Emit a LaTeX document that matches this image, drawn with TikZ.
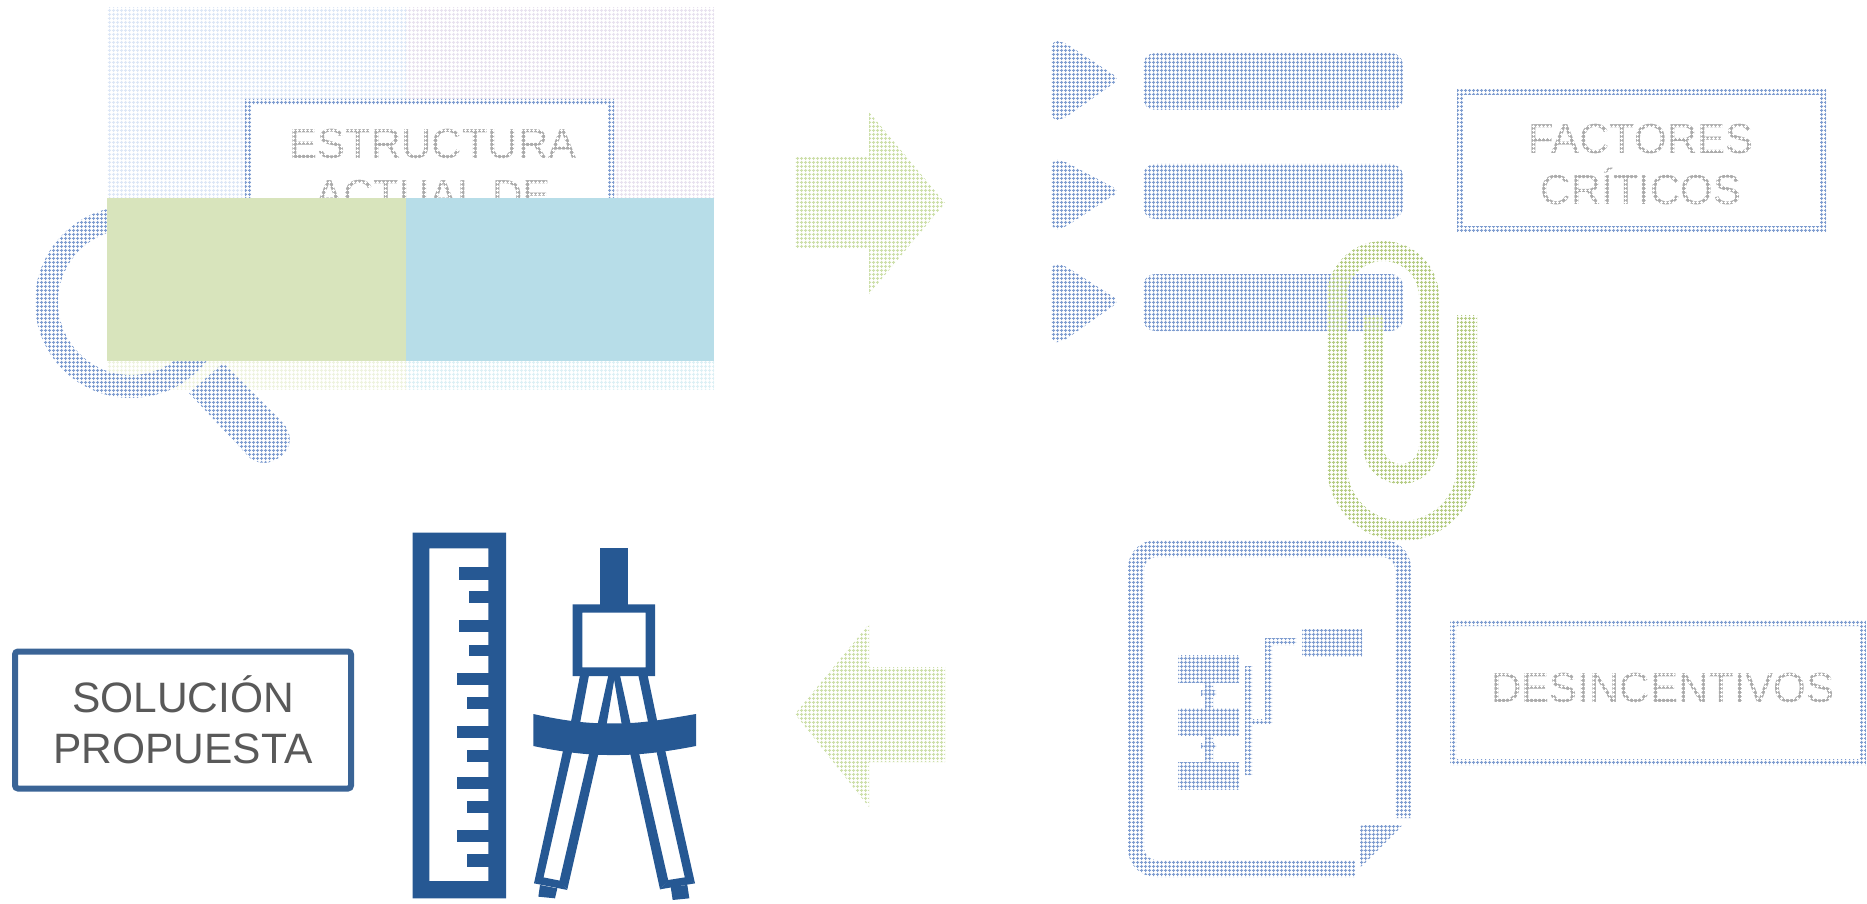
\documentclass[tikz,border=0pt]{standalone}
\usepackage{fontspec}
\setmainfont{Liberation Sans}
\usetikzlibrary{patterns}
\pgfdeclarepatternformonly{rgrid}{\pgfqpoint{0pt}{0pt}}{\pgfqpoint{4pt}{4pt}}{\pgfqpoint{4pt}{4pt}}{%
  \pgfsetlinewidth{1.2pt}%
  \pgfpathmoveto{\pgfqpoint{0pt}{2pt}}\pgfpathlineto{\pgfqpoint{4pt}{2pt}}%
  \pgfpathmoveto{\pgfqpoint{2pt}{0pt}}\pgfpathlineto{\pgfqpoint{2pt}{4pt}}%
  \pgfusepath{stroke}}
\definecolor{navy}{HTML}{265893}
\definecolor{boxblue}{HTML}{3A6496}
\definecolor{txtgray}{HTML}{595959}
\definecolor{solidgreen}{HTML}{D8E4BC}
\definecolor{solidblue}{HTML}{B7DDE8}
\definecolor{dotblue}{HTML}{7F9DD0}
\definecolor{dotgreen}{HTML}{B5CC84}
\definecolor{dotarrow}{HTML}{CDDFAA}
\definecolor{labelgray}{HTML}{ABABAB}
\definecolor{patcha}{HTML}{DDE7F6}
\definecolor{patchb}{HTML}{E8E2EF}
\definecolor{patchc}{HTML}{EEF3DF}
\definecolor{patchd}{HTML}{DDF0F5}
\tikzset{
  blueshape/.style={pattern=rgrid,pattern color=dotblue},
  greenshape/.style={pattern=rgrid,pattern color=dotgreen},
  arrowshape/.style={pattern=rgrid,pattern color=dotarrow},
  ringshape/.style={blueshape,even odd rule},
  fadelabel/.style={text=labelgray,align=center,inner sep=0pt,font=\fontsize{42pt}{51pt}\selectfont},
  whitegrid/.style={pattern=rgrid,pattern color=white},
  navyfill/.style={fill=navy},
}
\begin{document}
\begin{tikzpicture}[x=1pt,y=-1pt]
\useasboundingbox (0,0) rectangle (1867,904);
% --- top-left patch
\fill[pattern=rgrid,pattern color=patcha] (107,8) rectangle (406,198);
\fill[pattern=rgrid,pattern color=patchb] (406,8) rectangle (714,198);
\fill[pattern=rgrid,pattern color=patchc] (107,361) rectangle (406,389);
\fill[pattern=rgrid,pattern color=patchd] (406,361) rectangle (714,389);
% --- structure box
\fill[white] (245,100) rectangle (614,230);
\fill[ringshape] (245,99) rectangle (614,230) (251,105) rectangle (608,230);
\node[fadelabel] (estructura) at (433,170) {ESTRUCTURA\\ACTUAL DE};
\fill[whitegrid] (251,105) rectangle (608,230);
% --- magnifier
\fill[ringshape] (131,302) circle[radius=96pt] (131,302) circle[radius=73pt];
\fill[blueshape] (223,363) -- (189,393) -- (250,458) .. controls (262,468) and (282,462) .. (289,445) .. controls (292,432) and (285,425) .. (280,420) -- cycle;
% --- solid rectangles
\fill[solidgreen] (107,198) rectangle (406,361);
\fill[solidblue] (406,198) rectangle (714,361);
% --- block arrows
\fill[arrowshape] (795,157) -- (869,157) -- (869,112) -- (945,203) -- (869,294) -- (869,248) -- (795,248) -- cycle;
\fill[arrowshape] (945,667) -- (869,667) -- (869,624) -- (795,714) -- (869,807) -- (869,762) -- (945,762) -- cycle;
% --- bullets
\foreach \t/\m/\b in {41/79/120,160/191/229,264/301/342}{
  \fill[blueshape,rounded corners=7pt] (1051,\t) -- (1062,\t) -- (1120,\m) -- (1062,\b) -- (1051,\b) -- cycle;
}
\fill[blueshape,rounded corners=12pt] (1143,53) rectangle (1403,110);
\fill[blueshape,rounded corners=12pt] (1143,164) rectangle (1403,219);
\fill[blueshape,rounded corners=12pt] (1143,274) rectangle (1403,331);
% --- paper clip
\fill[greenshape] (1477,315) -- (1477,466) arc[start angle=0,end angle=-180,radius=75pt]
  -- (1327,297) arc[start angle=180,end angle=0,radius=56pt]
  -- (1439,446) arc[start angle=0,end angle=-180,radius=38pt]
  -- (1363,315) -- (1383,315) -- (1383,446) arc[start angle=180,end angle=360,radius=18pt]
  -- (1419,297) arc[start angle=0,end angle=180,radius=36pt]
  -- (1347,466) arc[start angle=180,end angle=360,radius=55pt]
  -- (1457,315) -- cycle;
% --- factores box
\fill[ringshape] (1457,89) rectangle (1826,232) (1463,95) rectangle (1820,226);
\node[fadelabel] (factores) at (1641,165) {FACTORES\\CRÍTICOS};
\fill[whitegrid] (1480,110) rectangle (1800,220);
% --- document icon
\fill[blueshape] (1411,818) -- (1411,568) arc[start angle=0,end angle=90,radius=28pt]
  -- (1156,540) arc[start angle=90,end angle=180,radius=28pt]
  -- (1128,849) arc[start angle=180,end angle=270,radius=28pt]
  -- (1355,877) -- (1355,860) -- (1156,860) arc[start angle=270,end angle=180,radius=12pt]
  -- (1144,569) arc[start angle=180,end angle=90,radius=12pt]
  -- (1383,557) arc[start angle=90,end angle=0,radius=12pt]
  -- (1395,818) -- cycle;
\fill[blueshape,rounded corners=3pt] (1360,825) -- (1403,825) -- (1360,868) -- cycle;
\fill[blueshape] (1178,655) rectangle (1239,682);
\fill[blueshape] (1178,708) rectangle (1239,735);
\fill[blueshape] (1178,762) rectangle (1239,789);
\fill[blueshape] (1302,629) rectangle (1362,656);
\fill[blueshape] (1205,682) rectangle (1213,708);
\fill[blueshape] (1201,690) rectangle (1216,695);
\fill[blueshape] (1205,735) rectangle (1213,762);
\fill[blueshape] (1201,743) rectangle (1216,748);
\fill[blueshape] (1245,666) -- (1252,666) -- (1252,719) -- (1265,719) -- (1265,638) -- (1296,638) -- (1296,645) -- (1272,645) -- (1272,724) -- (1252,724) -- (1252,775) -- (1245,775) -- cycle;
% --- desincentivos box
\fill[ringshape] (1450,620) rectangle (1866,765) (1456,626) rectangle (1860,759);
\node[fadelabel] (desincentivos) at (1663,688) {DESINCENTIVOS};
\fill[whitegrid] (1480,650) rectangle (1845,730);
% --- solution box
\node[draw=boxblue,line width=6pt,rounded corners=3pt,minimum width=336pt,minimum height=137pt,inner sep=0pt,align=center,text=txtgray,font=\fontsize{42.5pt}{51pt}\selectfont] (solucion) at (183,720) {SOLUCIÓN\\PROPUESTA};
% --- ruler and compass (coordinates of a 3x crop)
\begin{scope}[shift={(400,520)},x=0.33333pt,y=-0.33333pt]
\fill[navyfill,even odd rule] (38,38) rectangle (318,1135) (88,85) rectangle (265,1083);
\foreach \l/\a/\b in {178/142/180,208/213/250,178/300/337,208/375/408,172/458/495,200/530/567,172/618/653,200/690/727,172/770/807,200/843/880,172/930/967,200/1003/1040}{
  \fill[navyfill] (\l,\a) rectangle (266,\b);
}
\fill[navyfill] (600,83) rectangle (685,255);
\fill[navyfill,even odd rule] (518,253) rectangle (765,468) (547,278) rectangle (737,442);
\fill[navyfill] (540,466) -- (567,466) -- (540,610) -- (513,605) -- cycle;
\fill[navyfill] (625,466) -- (645,466) -- (620,612) -- (593,612) -- cycle;
\fill[navyfill] (640,466) -- (660,466) -- (692,612) -- (665,612) -- cycle;
\fill[navyfill] (715,466) -- (743,466) -- (772,605) -- (745,610) -- cycle;
\fill[navyfill] (400,582) .. controls (480,600) and (560,612) .. (640,610) .. controls (720,612) and (800,597) .. (888,582) -- (888,678) .. controls (800,695) and (720,706) .. (640,705) .. controls (560,706) and (480,695) .. (400,678) -- cycle;
\fill[navyfill] (490,688) -- (517,692) -- (430,1075) -- (402,1090) -- cycle;
\fill[navyfill] (568,698) -- (595,702) -- (502,1108) -- (478,1085) -- cycle;
\fill[navyfill] (402,1090) -- (430,1072) -- (480,1082) -- (502,1110) -- cycle;
\fill[navyfill] (420,1095) -- (472,1105) -- (465,1135) -- (415,1130) -- cycle;
\fill[navyfill] (768,688) -- (795,688) -- (885,1090) -- (855,1075) -- cycle;
\fill[navyfill] (690,698) -- (717,698) -- (805,1082) -- (780,1108) -- cycle;
\fill[navyfill] (780,1108) -- (805,1080) -- (855,1072) -- (885,1090) -- cycle;
\fill[navyfill] (812,1100) -- (862,1095) -- (868,1135) -- (818,1140) -- cycle;
\end{scope}
\end{tikzpicture}
\end{document}
